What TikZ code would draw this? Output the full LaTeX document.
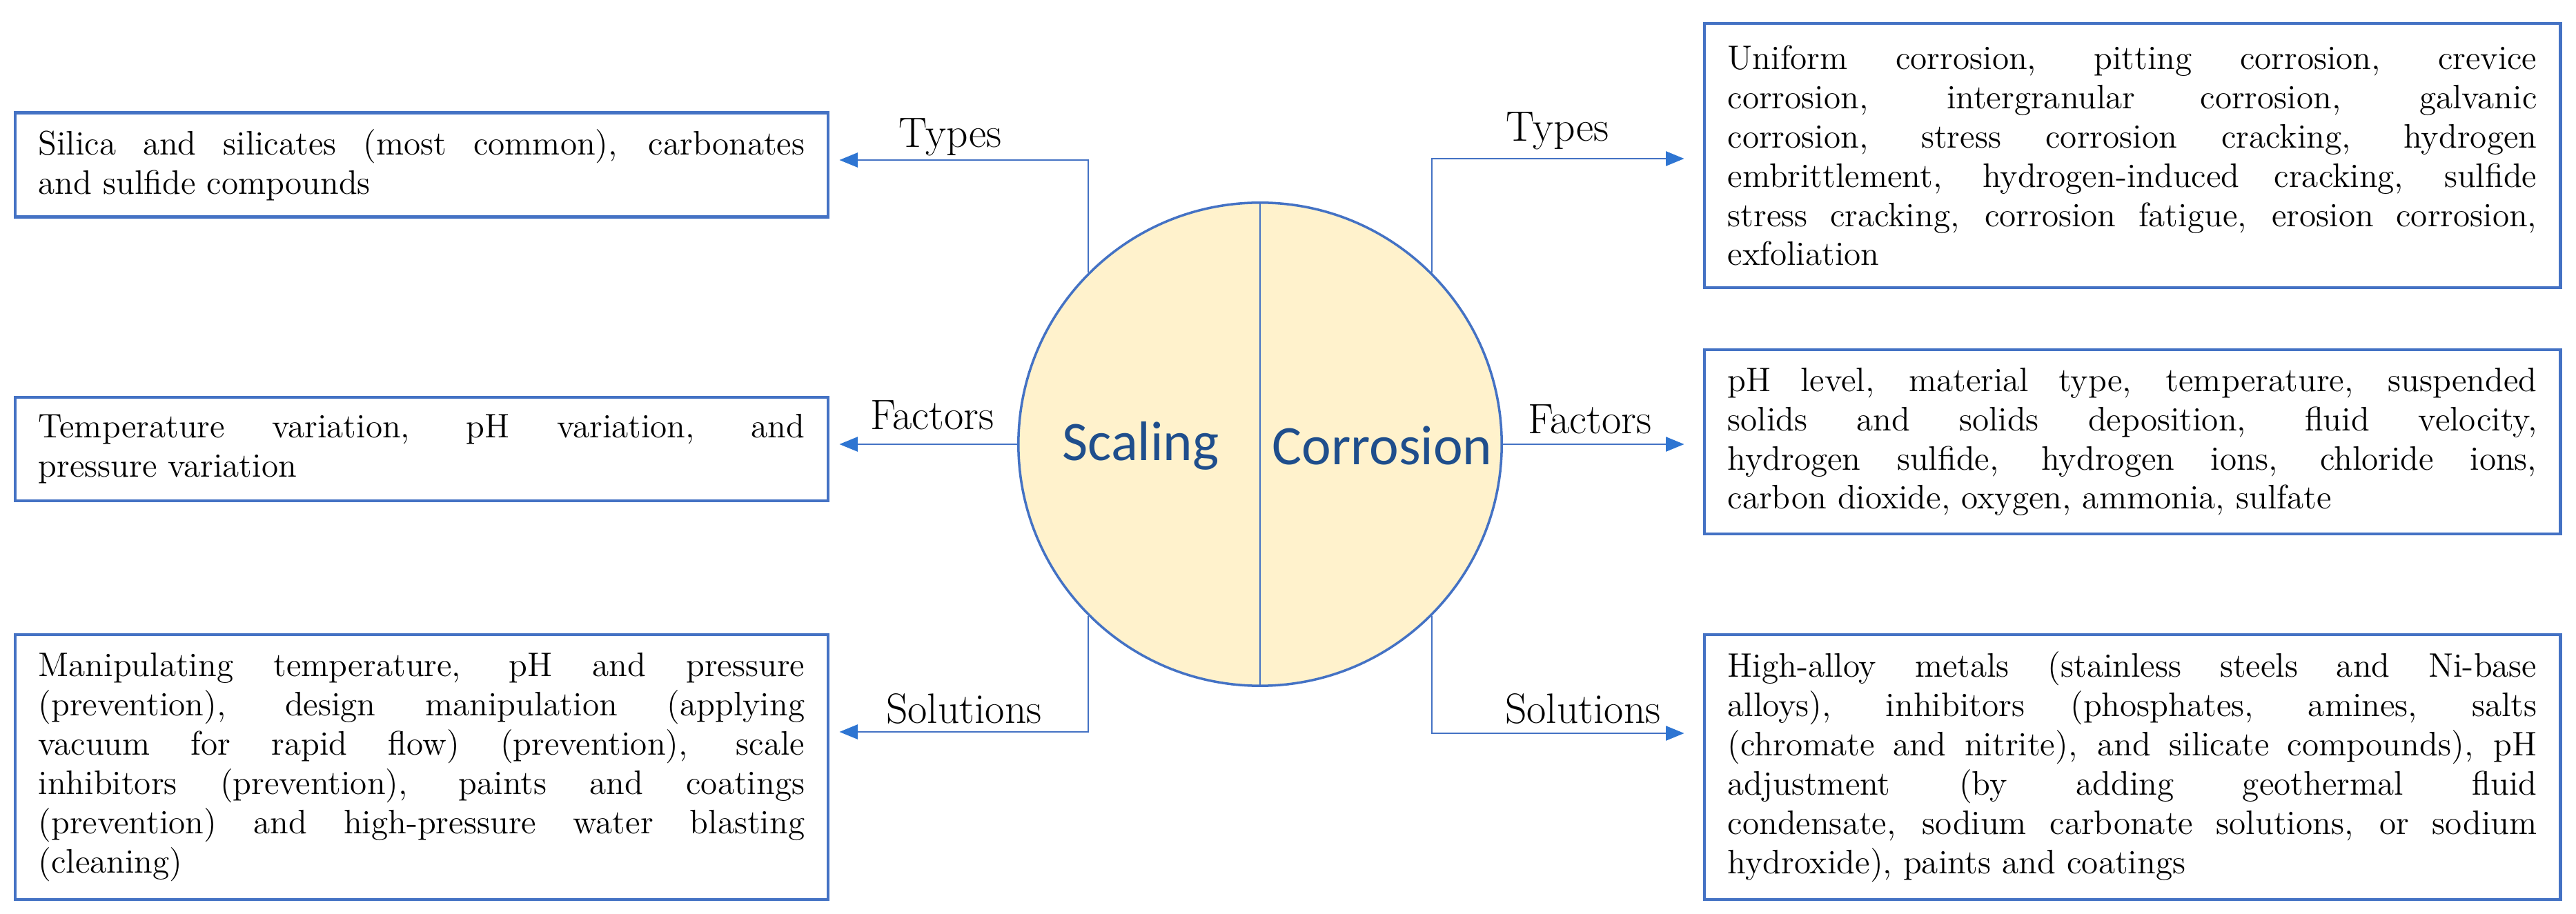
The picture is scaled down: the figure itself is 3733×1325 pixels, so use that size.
\documentclass[tikz,border=0pt]{standalone}
\usepackage{fontspec}
\newfontfamily\titlefont{Carlito}
\usetikzlibrary{arrows.meta}
\definecolor{boxblue}{RGB}{68,114,196}
\definecolor{tipblue}{RGB}{46,117,210}
\definecolor{discfill}{RGB}{255,242,204}
\definecolor{titleblue}{RGB}{31,78,140}
\hyphenpenalty = 10000
\exhyphenpenalty = 10000

\begin{document}
\begin{tikzpicture}[x = 0.01cm, y = -0.01cm,
    infobox/.style = {draw = boxblue, line width = 1.2pt, inner xsep = 0.34cm, inner ysep = 0pt,
        align = justify, font = \fontsize{14}{16.2}\selectfont},
    leftbox/.style = {infobox, text width = 11.10cm, minimum width = 11.78cm},
    rightbox/.style = {infobox, text width = 11.72cm, minimum width = 12.40cm},
    branch/.style = {font = \fontsize{17.5}{20}\selectfont, inner sep = 0pt, anchor = base},
    title/.style = {font = \titlefont\fontsize{23}{26}\selectfont, text = titleblue, inner sep = 0pt},
    link/.style = {draw = boxblue, line width = 0.6pt, shorten > = 0.14cm,
        -{Triangle[length = 7.5pt, width = 6pt, color = tipblue]}}]
    \useasboundingbox (0,0) rectangle (3733,1325);

    \node[circle, draw = boxblue, line width = 1pt, fill = discfill, minimum size = 7cm, inner sep = 0pt] (disc) at (1826,644) {};
    \draw[boxblue, line width = 0.6pt] (disc.north) -- (disc.south);
    \node[title] (scaling) at (1653,646) {Scaling};
    \node[title] (corrosion) at (2003,646) {Corrosion};

    \node[leftbox, minimum height = 1.51cm] (stypes) at (611,239) {Silica and silicates (most common), carbonates\linebreak and sulfide compounds};
    \node[leftbox, minimum height = 1.50cm] (sfactors) at (611,651) {Temperature variation, pH variation, and\linebreak pressure variation};
    \node[leftbox, minimum height = 3.84cm] (ssolutions) at (611,1112) {Manipulating temperature, pH and pressure\linebreak (prevention), design manipulation (applying\linebreak vacuum for rapid flow) (prevention), scale\linebreak inhibitors (prevention), paints and coatings\linebreak (prevention) and high-pressure water blasting\linebreak (cleaning)};
    \node[rightbox, minimum height = 3.83cm] (ctypes) at (3090,225.5) {Uniform corrosion, pitting corrosion, crevice\linebreak corrosion, intergranular corrosion, galvanic\linebreak corrosion, stress corrosion cracking, hydrogen\linebreak embrittlement, hydrogen-induced cracking, sulfide\linebreak stress cracking, corrosion fatigue, erosion corrosion,\linebreak exfoliation};
    \node[rightbox, minimum height = 2.67cm] (cfactors) at (3090,640.5) {pH level, material type, temperature, suspended\linebreak solids and solids deposition, fluid velocity,\linebreak hydrogen sulfide, hydrogen ions, chloride ions,\linebreak carbon dioxide, oxygen, ammonia, sulfate};
    \node[rightbox, minimum height = 3.84cm] (csolutions) at (3090,1112) {High-alloy metals (stainless steels and Ni-base\linebreak alloys), inhibitors (phosphates, amines, salts\linebreak (chromate and nitrite), and silicate compounds), pH\linebreak adjustment (by adding geothermal fluid\linebreak condensate, sodium carbonate solutions, or sodium\linebreak hydroxide), paints and coatings};

    \draw[link] (disc.135) |- (stypes.east |- 0,232);
    \draw[link] (disc.west) -- (sfactors.east |- disc.west);
    \draw[link] (disc.225) |- (ssolutions.east |- 0,1061);
    \draw[link, shorten > = 0.27cm] (disc.45) |- (ctypes.west |- 0,230);
    \draw[link, shorten > = 0.27cm] (disc.east) -- (cfactors.west |- disc.east);
    \draw[link, shorten > = 0.27cm] (disc.-45) |- (csolutions.west |- 0,1063);

    \node[branch] (stlabel) at (1377,214) {Types};
    \node[branch] (sflabel) at (1351,623) {Factors};
    \node[branch] (sslabel) at (1397,1048) {Solutions};
    \node[branch] (ctlabel) at (2257,205) {Types};
    \node[branch] (cflabel) at (2304,629) {Factors};
    \node[branch] (cslabel) at (2294,1048) {Solutions};
\end{tikzpicture}
\end{document}
